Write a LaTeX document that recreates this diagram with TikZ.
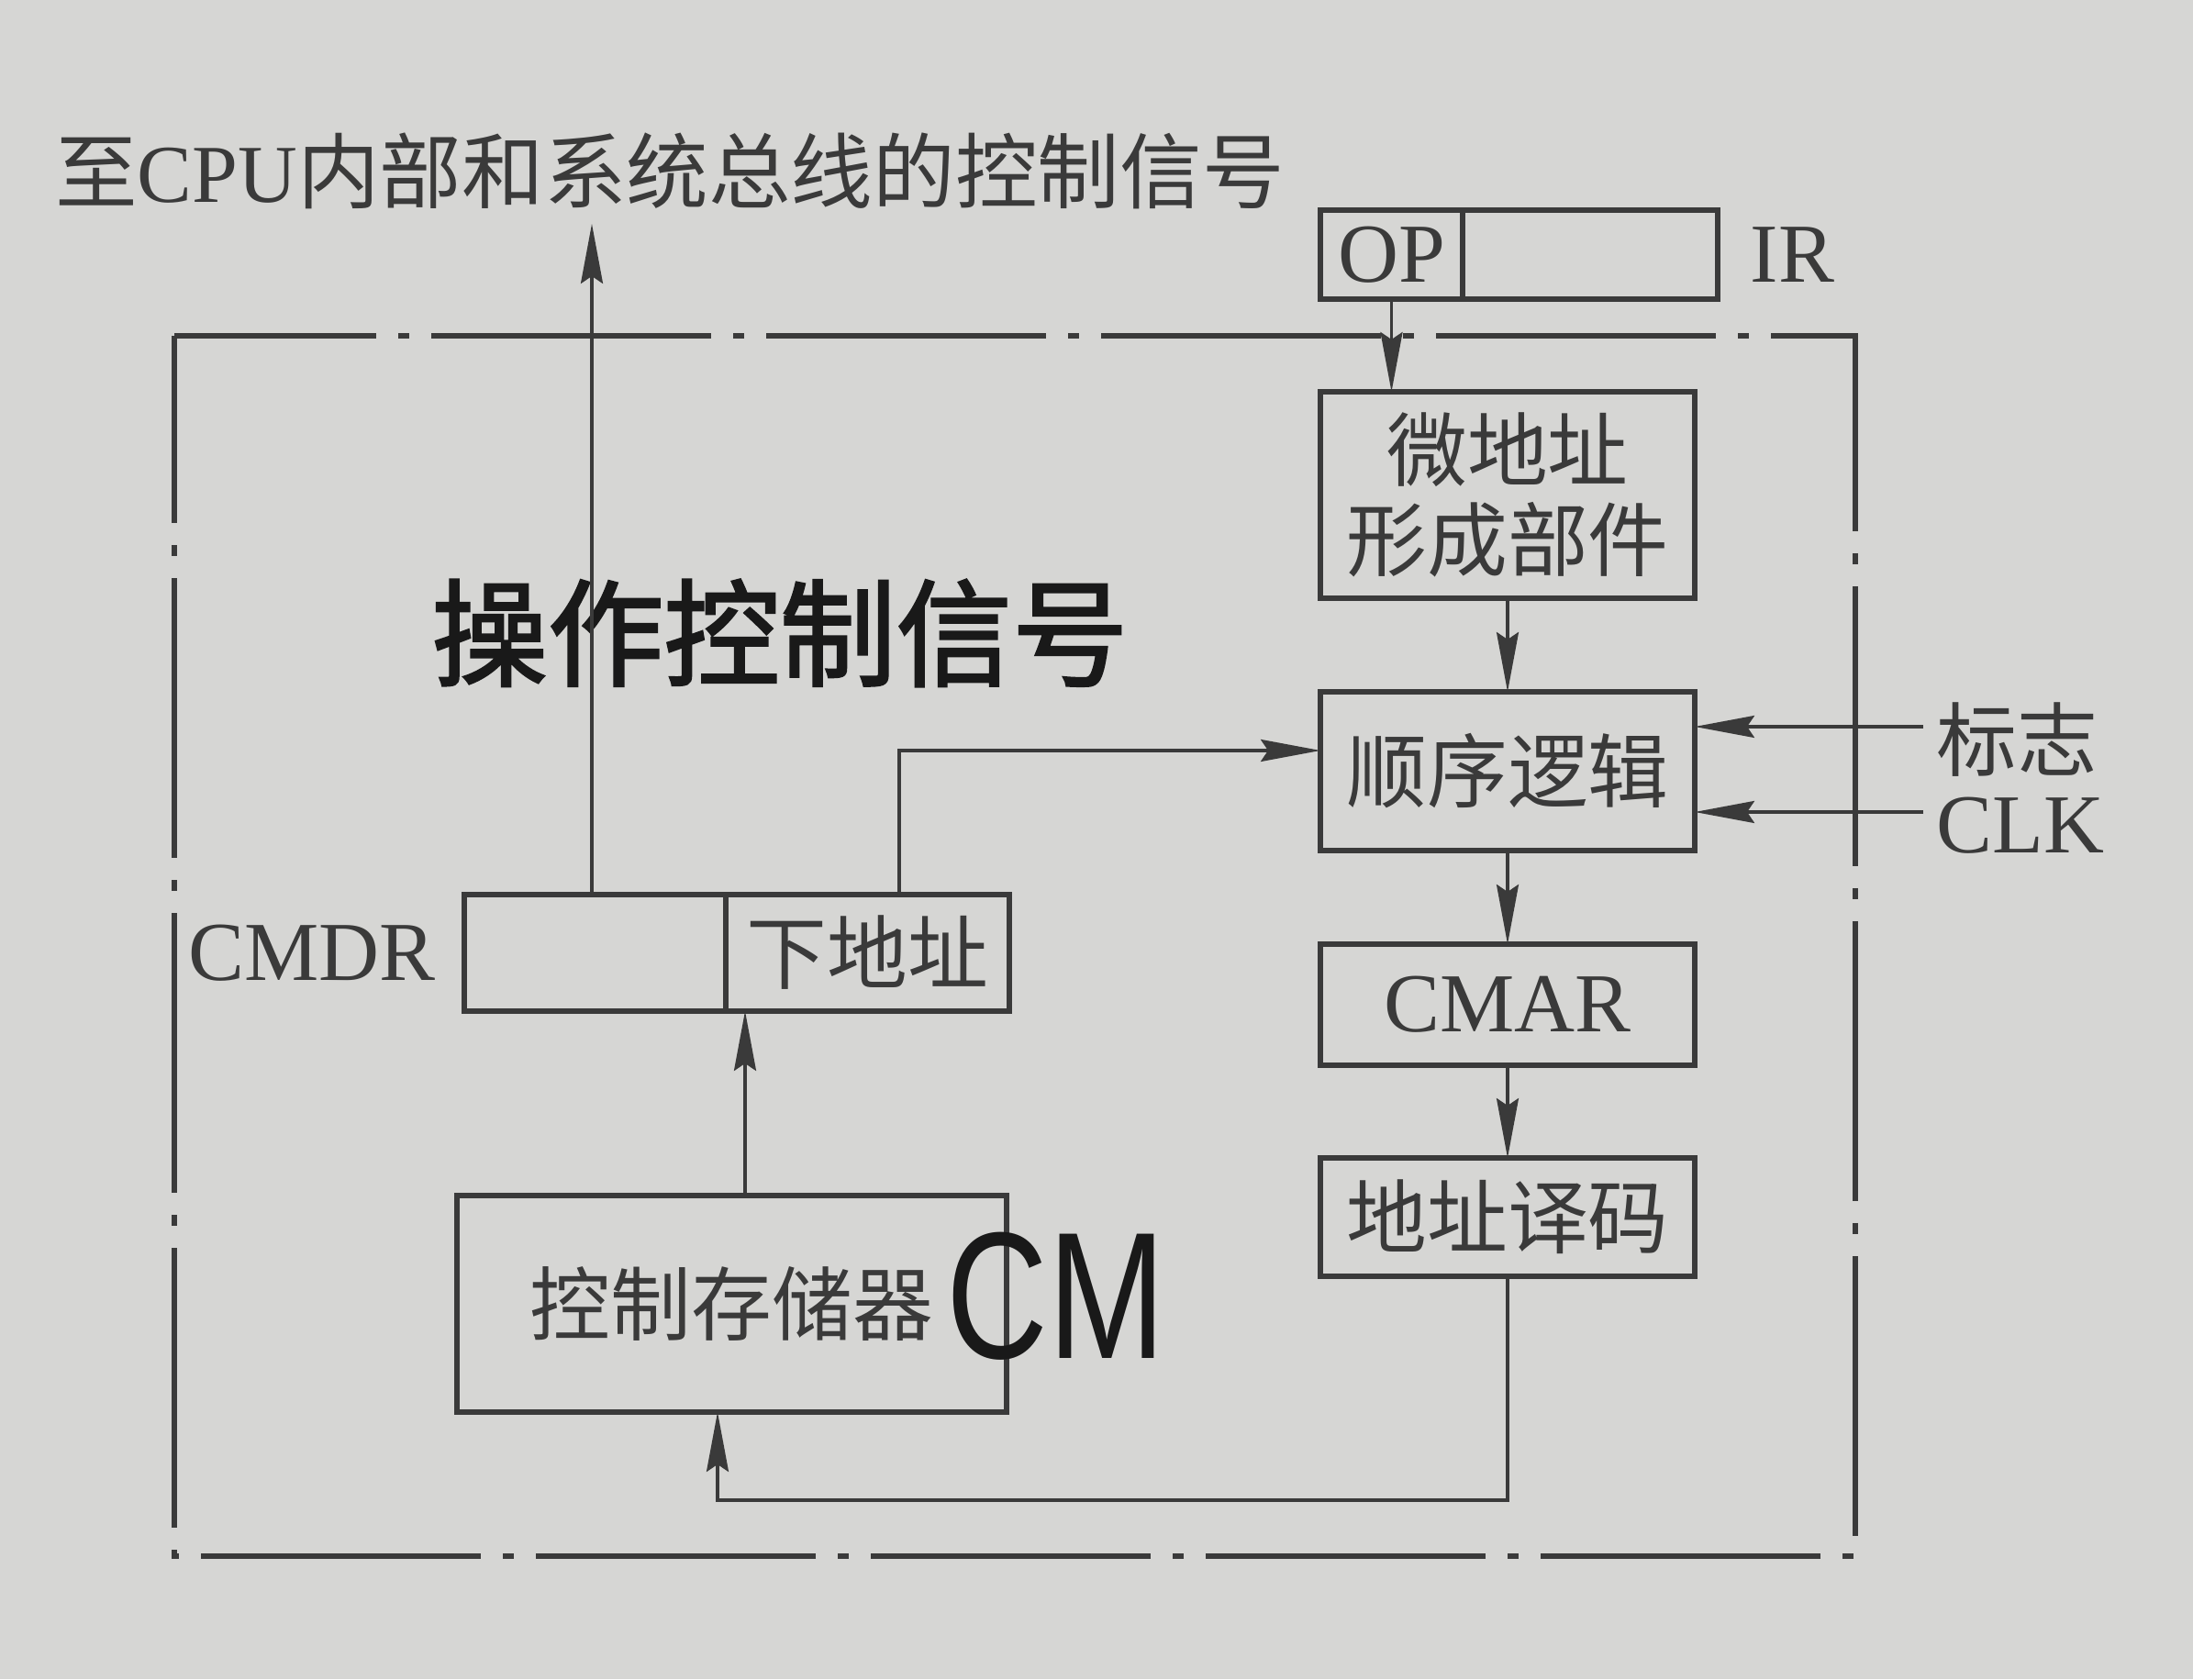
\documentclass[tikz,border=0pt]{standalone}
\usepackage{fontspec}
\setmainfont{Liberation Serif}
\newfontfamily\cjk{Noto Sans CJK SC}
\newfontfamily\handcjk[FakeBold=2]{Noto Sans CJK SC}
\newfontfamily\hand{Liberation Sans}
\usetikzlibrary{arrows.meta,positioning}
\definecolor{paper}{RGB}{214,214,212}
\definecolor{ink}{RGB}{58,58,58}
\tikzset{
  blk/.style={draw=ink, line width=1.6pt, inner sep=0pt, outer sep=0pt, text=ink,
    font=\cjk\fontsize{25}{28}\selectfont, align=center},
  lbl/.style={inner sep=0pt, text=ink, font=\fontsize{26}{28}\selectfont},
  sig/.style={draw=ink, line width=0.9pt, -{Stealth[length=6.5mm,width=2.4mm,inset=0.8mm]}},
  frame/.style={draw=ink, line width=1.6pt, dash phase=0.85cm,
    dash pattern=on 3.05cm off 0.24cm on 0.12cm off 0.24cm}
}

\begin{document}
\begin{tikzpicture}
\useasboundingbox[fill=paper] (0,0) rectangle (23.9,18.3);
% frame
\draw[frame] (1.9,14.64) -- (20.22,14.64) -- (20.22,1.34) -- (1.9,1.34) -- cycle;
% right column
\node[blk, minimum width=1.55cm, minimum height=0.97cm, font=\fontsize{26}{28}\selectfont] (op) at (15.165,15.525) {OP};
\node[blk, minimum width=2.78cm, minimum height=0.97cm, anchor=west] (irrest) at (op.east) {};
\node[lbl, right=0.35 of irrest] (ir) {IR};
\node[blk, minimum width=4.08cm, minimum height=2.25cm] (weidizhi) at (16.43,12.905) {微地址\\形成部件};
\node[blk, minimum width=4.08cm, minimum height=1.73cm] (shunxu) at (16.43,9.895) {顺序逻辑};
\node[blk, minimum width=4.08cm, minimum height=1.32cm, font=\fontsize{26}{28}\selectfont] (cmar) at (16.43,7.35) {CMAR};
\node[blk, minimum width=4.08cm, minimum height=1.29cm] (yima) at (16.43,5.035) {地址译码};
\node[lbl, font=\cjk\fontsize{25}{28}\selectfont, anchor=west] (biaozhi) at (21.1,10.24) {标志};
\node[lbl, anchor=west] (clk) at (21.1,9.3) {CLK};
% left column
\node[blk, minimum width=2.85cm, minimum height=1.27cm] (cmdrl) at (6.485,7.915) {};
\node[blk, minimum width=3.09cm, minimum height=1.27cm, anchor=west] (xia) at (cmdrl.east) {下地址};
\node[lbl, left=0.31 of cmdrl] (cmdr) {CMDR};
\node[blk, minimum width=5.99cm, minimum height=2.36cm] (cm) at (7.975,4.09) {控制存储器};
\node[lbl, font=\cjk\fontsize{25.5}{30}\selectfont] (top) at (7.3,16.44) {至{\rmfamily CPU}内部和系统总线的控制信号};
% handwritten notes
\node[inner sep=0pt, text=black!90, font=\handcjk\fontsize{36}{40}\selectfont] (note) at (8.5,11.4) {操作控制信号};
\node[inner sep=0pt, text=black!90, font=\hand\fontsize{56}{56}\selectfont, xscale=0.78] (cmnote) at (11.51,4.17) {CM};
% connectors
\coordinate (out) at (6.45,15.86);
\coordinate (turn) at (9.8,10.12);
\coordinate (ret) at (7.82,1.95);
\coordinate (up) at (8.12,0);
\coordinate (fin) at (20.96,10.38);
\coordinate (cin) at (20.96,9.45);
\draw[sig] (op.south) -- (op.south |- weidizhi.north);
\draw[sig] (weidizhi) -- (shunxu);
\draw[sig] (shunxu) -- (cmar);
\draw[sig] (cmar) -- (yima);
\draw[sig] (yima.south) |- (ret) -- (ret |- cm.south);
\draw[sig] (up |- cm.north) -- (up |- xia.south);
\draw[sig] (turn |- xia.north) -- (turn) -- (turn -| shunxu.west);
\draw[sig] (out |- cmdrl.north) -- (out);
\draw[sig] (fin) -- (fin -| shunxu.east);
\draw[sig] (cin) -- (cin -| shunxu.east);
\end{tikzpicture}
\end{document}
